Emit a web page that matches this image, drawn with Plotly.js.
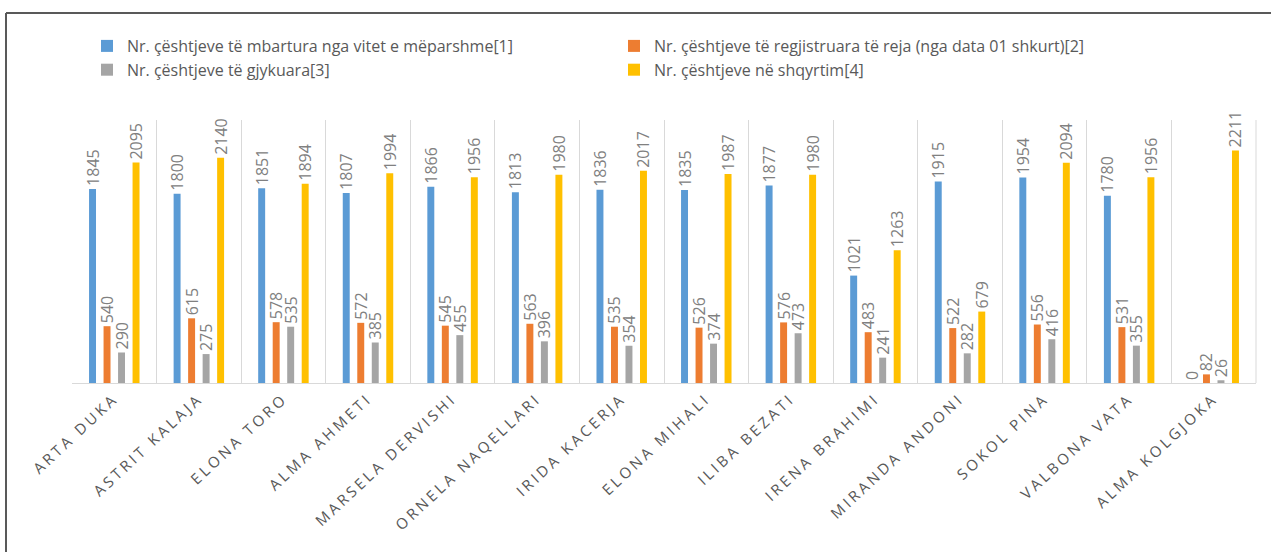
<!DOCTYPE html>
<html>
<head>
<meta charset="utf-8">
<script src="https://cdn.plot.ly/plotly-3.0.1.min.js"></script>
<style>
html,body{margin:0;padding:0;background:#fff;}
#chart{width:1271px;height:552px;}
.xtick text{letter-spacing:3.2px;}
</style>
</head>
<body>
<div id="chart"></div>
<script>
const categories = ["ARTA DUKA","ASTRIT KALAJA","ELONA TORO","ALMA AHMETI","MARSELA DERVISHI","ORNELA NAQELLARI","IRIDA KACERJA","ELONA MIHALI","ILIBA BEZATI","IRENA BRAHIMI","MIRANDA ANDONI","SOKOL PINA","VALBONA VATA","ALMA KOLGJOKA"];
const seriesNames = ["Nr. çështjeve të mbartura nga vitet e mëparshme[1]","Nr. çështjeve të regjistruara të reja (nga data 01 shkurt)[2]","Nr. çështjeve të gjykuara[3]","Nr. çështjeve në shqyrtim[4]"];
const carried = [1845,1800,1851,1807,1866,1813,1836,1835,1877,1021,1915,1954,1780,0];
const registered = [540,615,578,572,545,563,535,526,576,483,522,556,531,82];
const judged = [290,275,535,385,455,396,354,374,473,241,282,416,355,26];
const pending = [2095,2140,1894,1994,1956,1980,2017,1987,1980,1263,679,2094,1956,2211];
const colors = ["#5B9BD5","#ED7D31","#A5A5A5","#FFC000"];

const values = [carried, registered, judged, pending];
const traces = values.map((v,i)=>({
  type:'bar', x:categories, y:v, name:seriesNames[i],
  marker:{color:colors[i]},
  text:v.map(String), textposition:'outside', textangle:-90,
  textfont:{family:'Open Sans', size:16, color:'#808080'},
  constraintext:'none', cliponaxis:false, hoverinfo:'none'
}));

const L=72, R=1256, T=120, B=383;
const px2x = p => (p-L)/(R-L);
const px2y = p => (B-p)/(B-T);

const layout = {
  width:1271, height:552,
  margin:{l:L, r:1271-R, t:T, b:552-B, pad:0},
  paper_bgcolor:'#fff', plot_bgcolor:'#fff',
  barmode:'group', bargap:0.314, bargroupgap:0.52,
  showlegend:true,
  legend:{orientation:'h', x:px2x(87), y:px2y(29), xanchor:'left', yanchor:'top',
    entrywidth:482, entrywidthmode:'pixels', traceorder:'normal',
    font:{family:'Open Sans', size:16, color:'#595959'}, bgcolor:'rgba(0,0,0,0)'},
  xaxis:{type:'category', tickson:'boundaries', showgrid:true, gridcolor:'#d9d9d9', gridwidth:1,
    showline:true, linecolor:'#d9d9d9', linewidth:1, ticks:'', tickangle:-43,
    tickfont:{family:'Open Sans', size:15, color:'#595959'}, automargin:false, fixedrange:true},
  yaxis:{range:[0,2500], showgrid:false, zeroline:false, showticklabels:false, ticks:'', showline:false, fixedrange:true},
  shapes:[
    {type:'line', xref:'paper', yref:'paper', x0:px2x(6), x1:px2x(1271), y0:px2y(13), y1:px2y(13), line:{color:'#595959', width:2}},
    {type:'line', xref:'paper', yref:'paper', x0:px2x(6), x1:px2x(6), y0:px2y(13), y1:px2y(552), line:{color:'#595959', width:2}},
    {type:'line', xref:'paper', yref:'paper', x0:1, x1:1, y0:0, y1:1, line:{color:'#d9d9d9', width:1}}
  ],
  font:{family:'Open Sans'}
};
Plotly.newPlot('chart', traces, layout, {displayModeBar:false, staticPlot:true});
</script>
</body>
</html>
